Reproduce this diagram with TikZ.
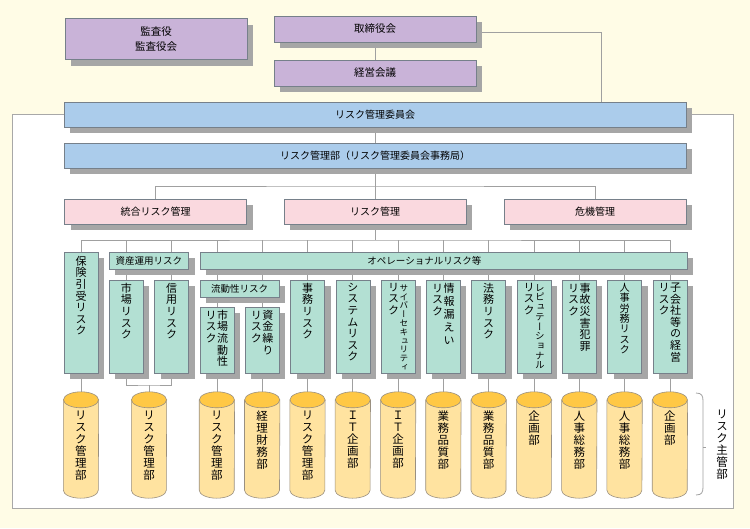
\documentclass[tikz,border=0pt]{standalone}
\usepackage{fontspec}
\setmainfont{Noto Sans CJK JP}
\newfontfamily\vfont[RawFeature=+vert]{Noto Sans CJK JP}
\usetikzlibrary{shadows}
\pgfdeclarelayer{background}
\pgfdeclarelayer{mid}
\pgfsetlayers{background,mid,main}
\definecolor{bgc}{HTML}{FFFCE6}
\definecolor{lav}{HTML}{C9B3D8}
\definecolor{blu}{HTML}{ABCCEB}
\definecolor{pnk}{HTML}{FAD9DF}
\definecolor{mnt}{HTML}{B3E0D3}
\definecolor{shadowgray}{HTML}{A6A6A6}
\definecolor{boxline}{HTML}{76808A}
\definecolor{connline}{HTML}{A0A0A0}
\definecolor{panelline}{HTML}{A8A8A8}
\definecolor{cylbody}{HTML}{FFE3A0}
\definecolor{cyltop}{HTML}{FFC845}
\definecolor{cylline}{HTML}{9A9080}
\def\vtend{\vtend}
\def\vtx#1{\ifx#1\vtend\else\hbox to 1.05em{\hss#1\hss}\expandafter\vtx\fi}
% \vt[size/skip]{text}
\newcommand\vts[3]{\vtop{\vfont\fontsize{#1}{#2}\selectfont\lineskiplimit=-20pt\lineskip=0pt\vtx#3\vtend}}
\newcommand\vt[1]{\vts{11pt}{11.6pt}{#1}}
\newcommand\vcol[3]{\vbox to #1{\vskip #2\hbox{#3}\vss}}
\newcommand\cyl[1]{%
 \begin{pgfonlayer}{mid}
 \draw[draw=cylline, line width=0.6pt, fill=cylbody] ([yshift=-8pt]#1.north west) -- ([yshift=8pt]#1.south west) arc[start angle=180,end angle=360,x radius=17.5pt,y radius=8pt] -- ([yshift=-8pt]#1.north east) -- cycle;
 \draw[draw=cylline, line width=0.6pt, fill=cyltop] ([yshift=-8pt]#1.north) ellipse[x radius=17.5pt, y radius=8pt];
 \end{pgfonlayer}}
\newcommand\ctext[1]{\vcol{106pt}{19pt}{\vts{11.5pt}{12pt}{#1}}}
\tikzset{
  box/.style={draw=boxline, line width=0.6pt, inner sep=0pt,
    general shadow={fill=shadowgray, shadow xshift=6pt, shadow yshift=-6pt},
    font=\fontsize{10pt}{12pt}\selectfont},
  lavbox/.style={box, fill=lav, minimum width=202pt, minimum height=26pt},
  blubox/.style={box, fill=blu, minimum width=622pt, minimum height=25pt},
  pnkbox/.style={box, fill=pnk, minimum width=182pt, minimum height=25pt},
  mntbox/.style={box, fill=mnt, minimum width=34pt},
  hbar/.style={box, fill=mnt, minimum height=17pt, font=\fontsize{9.5pt}{11pt}\selectfont},
  cylnode/.style={inner sep=0pt, minimum width=35pt},
  conn/.style={draw=connline, line width=0.8pt},
}
\begin{document}
\begin{tikzpicture}[x=1pt,y=-1pt]
\useasboundingbox (0,0) rectangle (750,528);
\begin{pgfonlayer}{background}
\fill[bgc] (0,0) rectangle (750,528);
\draw[draw=panelline, line width=1pt, fill=white] (12,114) rectangle (733,508);
\end{pgfonlayer}

% top level
\node[lavbox, minimum width=182pt, minimum height=41pt, align=center, font=\fontsize{10.5pt}{15pt}\selectfont] (kansa) at (156,39) {監査役\\監査役会};
\node[lavbox, font=\fontsize{10.5pt}{12pt}\selectfont] (torishimari) at (375,29) {取締役会};
\node[lavbox, font=\fontsize{10.5pt}{12pt}\selectfont] (keiei) at (375,73) {経営会議};
\node[blubox] (iinkai) at (375,114.5) {リスク管理委員会};
\node[blubox] (jimukyoku) at (375,155.5) {リスク管理部（リスク管理委員会事務局）};
\node[pnkbox] (togo) at (155.5,211.5) {統合リスク管理};
\node[pnkbox] (riskkanri) at (375,211.5) {リスク管理};
\node[pnkbox] (kiki) at (595,211.5) {危機管理};

% level 4
\node[mntbox] (hoken) at (81,312.5) {\vcol{121pt}{4pt}{\vt{保険引受リスク}}};
\node[hbar, minimum width=79.3pt] (shisan) at (148.95,260.5) {資産運用リスク};
\node[mntbox] (shijo) at (126.3,326.5) {\vcol{93pt}{3pt}{\vt{市場リスク}}};
\node[mntbox] (shinyo) at (171.6,326.5) {\vcol{93pt}{3pt}{\vt{信用リスク}}};
\node[hbar, minimum width=487pt] (opr) at (443.4,260.5) {\kern-38pt オペレーショナルリスク等};
\node[hbar, minimum width=79.3pt] (ryudo) at (239.55,288.5) {流動性リスク};
\node[mntbox] (shijoryudo) at (216.9,340) {\vcol{66pt}{3pt}{\vt{リスク}\vt{市場流動性}}};
\node[mntbox] (shikin) at (262.2,340) {\vcol{66pt}{3pt}{\vt{リスク}\vt{資金繰り}}};
\node[mntbox] (jimu) at (307.5,326.5) {\vcol{93pt}{3pt}{\vt{事務リスク}}};
\node[mntbox] (system) at (352.8,326.5) {\vcol{93pt}{3pt}{\vt{システムリスク}}};
\node[mntbox] (cyber) at (398.1,326.5) {\vcol{93pt}{3pt}{\vt{リスク}\vts{8.6pt}{8.8pt}{サイバーセキュリティ}}};
\node[mntbox] (joho) at (443.4,326.5) {\vcol{93pt}{3pt}{\vt{リスク}\vts{11pt}{13pt}{情報漏えい}}};
\node[mntbox] (homu) at (488.7,326.5) {\vcol{93pt}{3pt}{\vt{法務リスク}}};
\node[mntbox] (repu) at (534,326.5) {\vcol{93pt}{3pt}{\vt{リスク}\vts{9.5pt}{9.7pt}{レピュテーショナル}}};
\node[mntbox] (jiko) at (579.3,326.5) {\vcol{93pt}{3pt}{\vt{リスク}\vt{事故災害犯罪}}};
\node[mntbox] (jinji) at (624.6,326.5) {\vcol{93pt}{3pt}{\vts{10.2pt}{10.4pt}{人事労務リスク}}};
\node[mntbox] (kogai) at (669.9,326.5) {\vcol{93pt}{3pt}{\vt{リスク}\vt{子会社等の経営}}};

% cylinders
\node[cylnode] (k1) at (81,445) {\ctext{リスク管理部}}; \cyl{k1}
\node[cylnode] (k2) at (149,445) {\ctext{リスク管理部}}; \cyl{k2}
\node[cylnode] (k3) at (216.9,445) {\ctext{リスク管理部}}; \cyl{k3}
\node[cylnode] (k4) at (262.2,445) {\ctext{経理財務部}}; \cyl{k4}
\node[cylnode] (k5) at (307.5,445) {\ctext{リスク管理部}}; \cyl{k5}
\node[cylnode] (k6) at (352.8,445) {\ctext{ＩＴ企画部}}; \cyl{k6}
\node[cylnode] (k7) at (398.1,445) {\ctext{ＩＴ企画部}}; \cyl{k7}
\node[cylnode] (k8) at (443.4,445) {\ctext{業務品質部}}; \cyl{k8}
\node[cylnode] (k9) at (488.7,445) {\ctext{業務品質部}}; \cyl{k9}
\node[cylnode] (k10) at (534,445) {\ctext{企画部}}; \cyl{k10}
\node[cylnode] (k11) at (579.3,445) {\ctext{人事総務部}}; \cyl{k11}
\node[cylnode] (k12) at (624.6,445) {\ctext{人事総務部}}; \cyl{k12}
\node[cylnode] (k13) at (669.9,445) {\ctext{企画部}}; \cyl{k13}

% bracket and label
\draw[draw=connline, line width=0.8pt] (696,393) .. controls (702,393) and (703,396) .. (703,401) -- (703,487) .. controls (703,492) and (702,495) .. (696,495);
\draw[draw=connline, line width=0.8pt] (703,447) -- (706,447);
\node[inner sep=0pt, anchor=north] (shukan) at (722,410) {\vts{11.5pt}{12pt}{リスク主管部}};

% connectors
\begin{pgfonlayer}{background}
\coordinate (rt) at (601,32);
\coordinate (b1) at (375,186);
\coordinate (b2) at (375,240);
\coordinate (b3) at (149,385);
\draw[conn] (torishimari.south) -- (keiei.north);
\draw[conn] (torishimari.east |- rt) -- (rt) -- (rt |- iinkai.north);
\draw[conn] (iinkai.south) -- (jimukyoku.north);
\draw[conn] (jimukyoku.south) -- (b1);
\draw[conn] (togo.north) |- (b1) -| (kiki.north);
\draw[conn] (b1) -- (riskkanri.north);
\draw[conn] (riskkanri.south) -- (b2);
\draw[conn] (hoken.north) |- (b2) -| (kogai.north |- opr.north);
\foreach \n in {shijo,shinyo} {
  \draw[conn] (\n.north |- b2) -- (\n.north |- shisan.north);
  \draw[conn] (\n.north |- shisan.south) -- (\n.north);
}
\foreach \n in {shijoryudo,shikin,jimu,system,cyber,joho,homu,repu,jiko,jinji}
  \draw[conn] (\n.north |- b2) -- (\n.north |- opr.north);
\foreach \n in {shijoryudo,shikin} {
  \draw[conn] (\n.north |- opr.south) -- (\n.north |- ryudo.north);
  \draw[conn] (\n.north |- ryudo.south) -- (\n.north);
}
\foreach \n in {jimu,system,cyber,joho,homu,repu,jiko,jinji,kogai}
  \draw[conn] (\n.north |- opr.south) -- (\n.north);
\draw[conn] (hoken.south) -- (k1.north);
\draw[conn] (shijo.south) |- (b3) -| (shinyo.south);
\draw[conn] (b3) -- (k2.north);
\draw[conn] (shijoryudo.south) -- (k3.north);
\draw[conn] (shikin.south) -- (k4.north);
\draw[conn] (jimu.south) -- (k5.north);
\draw[conn] (system.south) -- (k6.north);
\draw[conn] (cyber.south) -- (k7.north);
\draw[conn] (joho.south) -- (k8.north);
\draw[conn] (homu.south) -- (k9.north);
\draw[conn] (repu.south) -- (k10.north);
\draw[conn] (jiko.south) -- (k11.north);
\draw[conn] (jinji.south) -- (k12.north);
\draw[conn] (kogai.south) -- (k13.north);
\end{pgfonlayer}
\end{tikzpicture}
\end{document}
